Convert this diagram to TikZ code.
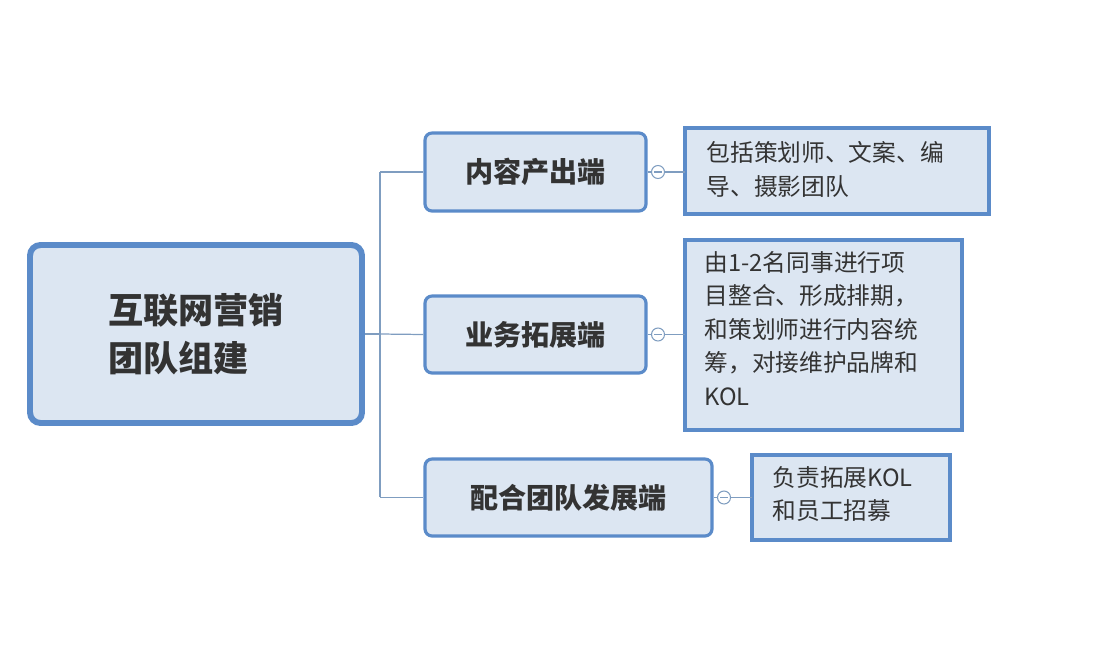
\documentclass[tikz,border=0pt]{standalone}
\usepackage{fontspec}
\setmainfont{Noto Sans CJK SC}
\begin{document}
\begin{tikzpicture}[x=0.02cm,y=-0.02cm]
\definecolor{bd}{HTML}{5B8BC9}
\definecolor{fl}{HTML}{DCE6F2}
\definecolor{ln}{HTML}{7F9DC0}
\definecolor{tx}{HTML}{333333}
\tikzset{
 rootbox/.style={draw=bd,fill=fl,line width=3.4pt,rounded corners=6pt,font=\fontsize{20}{27}\selectfont\bfseries,text=tx,align=left},
 midbox/.style={draw=bd,fill=fl,line width=1.8pt,rounded corners=4pt,font=\fontsize{16}{20}\selectfont\bfseries,text=tx},
 leafbox/.style={draw=bd,fill=fl,line width=1.8pt,font=\fontsize{13.5}{19}\selectfont,text=tx,align=left,anchor=north west,inner sep=0pt},
 conn/.style={draw=ln,line width=0.7pt},
 knob/.style={circle,draw=ln,fill=white,line width=0.6pt,minimum size=0.26cm,inner sep=0pt}
}
\useasboundingbox (0,0) rectangle (1111,660);
\node[rootbox,minimum width=332*0.02cm,minimum height=178*0.02cm] (root) at (196,334) {互联网营销\\团队组建};
\node[midbox,minimum width=221*0.02cm,minimum height=78*0.02cm] (m1) at (535.5,172) {内容产出端};
\node[midbox,minimum width=221*0.02cm,minimum height=77*0.02cm] (m2) at (535.5,334.5) {业务拓展端};
\node[midbox,minimum width=287*0.02cm,minimum height=77*0.02cm] (m3) at (568.5,497.5) {配合团队发展端};
\coordinate (j) at (380,334);
\draw[conn] (root.east) -- (j);
\draw[conn] (380,172) -- (380,497);
\draw[conn] (380,172) -- (m1.west);
\draw[conn] (j) -- (m2.west);
\draw[conn] (380,497.5) -- (m3.west);
\draw[bd,fill=fl,line width=1.8pt] (685,128) rectangle (989,214);
\node[leafbox,draw=none,fill=none] (l1) at (705,140) {包括策划师、文案、编\\导、摄影团队};
\draw[bd,fill=fl,line width=1.8pt] (685,240) rectangle (962,430);
\node[leafbox,draw=none,fill=none] (l2) at (703,250) {由1-2名同事进行项\\目整合、形成排期，\\和策划师进行内容统\\筹，对接维护品牌和\\KOL};
\draw[bd,fill=fl,line width=1.8pt] (752,455) rectangle (950,540);
\node[leafbox,draw=none,fill=none] (l3) at (771,465) {负责拓展KOL\\和员工招募};
\coordinate (r1) at (685,172);
\coordinate (r2) at (685,334.5);
\coordinate (r3) at (752,497.5);
\draw[conn] (m1.east) -- (r1);
\draw[conn] (m2.east) -- (r2);
\draw[conn] (m3.east) -- (r3);
\node[knob] (k1) at (658,172) {};
\node[knob] (k2) at (658,334.5) {};
\node[knob] (k3) at (724,497.5) {};
\draw[ln,line width=0.6pt] ([xshift=-2.2pt]k1.center) -- ([xshift=2.2pt]k1.center);
\draw[ln,line width=0.6pt] ([xshift=-2.2pt]k2.center) -- ([xshift=2.2pt]k2.center);
\draw[ln,line width=0.6pt] ([xshift=-2.2pt]k3.center) -- ([xshift=2.2pt]k3.center);
\end{tikzpicture}
\end{document}
